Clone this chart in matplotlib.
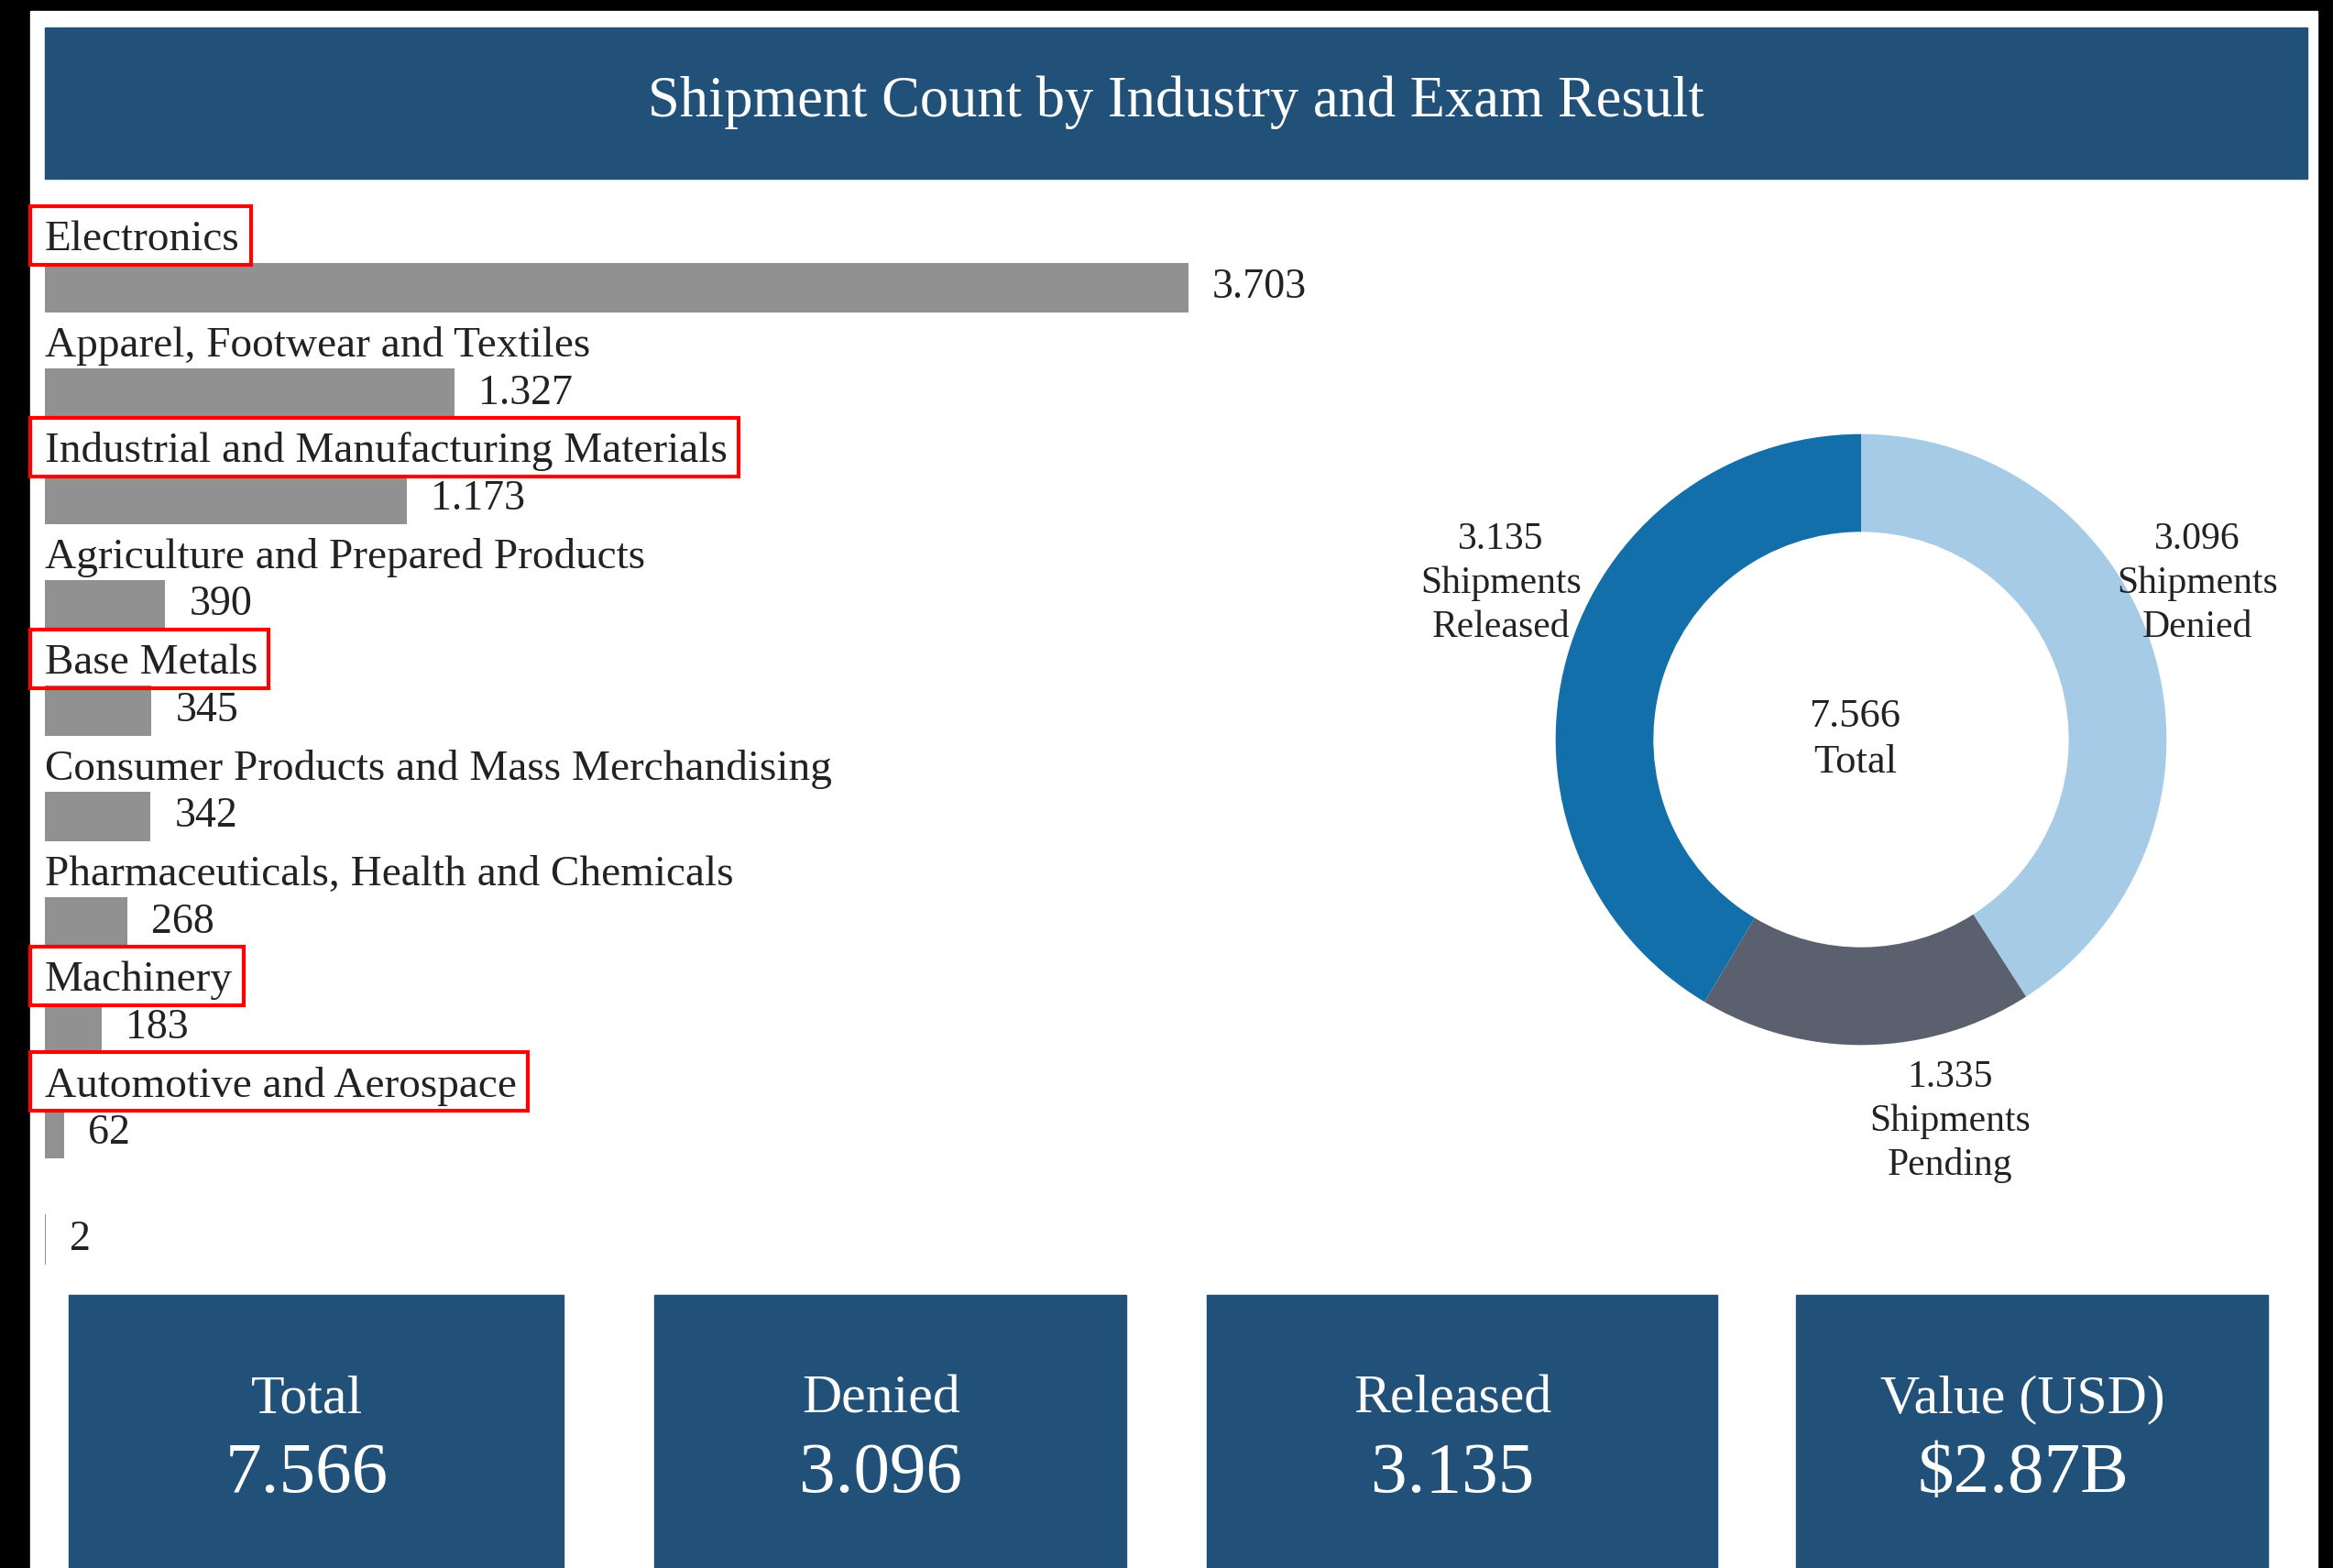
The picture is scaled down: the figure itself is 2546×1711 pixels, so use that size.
import numpy as np
import matplotlib.pyplot as plt
from matplotlib.patches import Rectangle

# data
industries = ["Electronics", "Apparel, Footwear and Textiles",
              "Industrial and Manufacturing Materials",
              "Agriculture and Prepared Products", "Base Metals",
              "Consumer Products and Mass Merchandising",
              "Pharmaceuticals, Health and Chemicals", "Machinery",
              "Automotive and Aerospace", ""]
shipments = [3703, 1327, 1173, 390, 345, 342, 268, 183, 62, 2]
highlighted = ["Electronics", "Industrial and Manufacturing Materials",
               "Base Metals", "Machinery", "Automotive and Aerospace"]

results = ["Denied", "Pending", "Released"]
result_counts = [3096, 1335, 3135]

kpi_titles = ["Total", "Denied", "Released", "Value (USD)"]
kpi_values = [sum(result_counts), result_counts[0], result_counts[2], "$2.87B"]


def fmt(v):
    # dots as thousands separator, like the report
    return f"{v:,}".replace(",", ".") if isinstance(v, (int, np.integer)) else v


W, H = 2546, 1711
NAVY = "#215079"
TXT = "#222222"
FONT = "Liberation Serif"
plt.rcParams["font.family"] = [FONT, "DejaVu Serif"]


def fx(x):
    return x / W


def fy(y):
    return 1 - y / H


fig = plt.figure(figsize=(W / 100, H / 100), dpi=100, facecolor="black")
fig.add_artist(Rectangle((fx(33), 0), fx(2529) - fx(33), fy(12),
                         transform=fig.transFigure, color="white", zorder=-5))

# title banner
fig.add_artist(Rectangle((fx(49), fy(195)), fx(2518) - fx(49), (195 - 30) / H,
                         transform=fig.transFigure, color=NAVY, zorder=-4))
fig.text(fx(1283), fy(112), "Shipment Count by Industry and Exam Result",
         color="white", fontsize=45, ha="center", va="center")

# bar chart
row0, row_px = 314, 115.4
ax_top = row0 - row_px
ax_bot = row0 + 9.5 * row_px
ax_left, ax_right = 49, 1450
ax = fig.add_axes([fx(ax_left), fy(ax_bot), (ax_right - ax_left) / W,
                   (ax_bot - ax_top) / H])
ypos = np.arange(len(industries))
ax.barh(ypos, shipments, height=0.47, color="#919191")
ax.set_xlim(0, max(shipments) * (ax_right - ax_left) / 1248)
ax.set_ylim(9.5, -1)
ax.axis("off")

label_texts = {}
for i, (name, v) in enumerate(zip(industries, shipments)):
    t = ax.text(0, i - 0.45, name, fontsize=34, color=TXT, ha="left",
                va="center")
    label_texts[name] = t
    ax.annotate(fmt(v), (v, i), xytext=(26, 0), textcoords="offset pixels",
                fontsize=33, color=TXT, ha="left", va="center")

# red highlight boxes around some labels
fig.canvas.draw()
renderer = fig.canvas.get_renderer()
for name in highlighted:
    t = label_texts[name]
    bb = t.get_window_extent(renderer)
    cy = (bb.y0 + bb.y1) / 2 + 5
    x_right = bb.x1 + 12
    fig.add_artist(Rectangle((33 / W, (cy - 32) / H), (x_right - 33) / W, 64 / H,
                             transform=fig.transFigure, fill=False,
                             edgecolor="#FF0000", linewidth=3))

# donut
cx, cy = 2031, 807
size = 1000
ax2 = fig.add_axes([fx(cx - size / 2), fy(cy + size / 2), size / W, size / H])
ax2.pie(result_counts, startangle=90, counterclock=False, radius=1,
        colors=["#A5CBE7", "#5A606E", "#136FAA"],
        wedgeprops=dict(width=0.32, linewidth=0))
ax2.set_xlim(-1.5, 1.5)
ax2.set_ylim(-1.5, 1.5)
ax2.set_aspect("equal")
ax2.axis("off")
label_pos = [(1.10, 0.51), (0.29, -1.25), (-1.18, 0.51)]
for name, v, (lx, ly) in zip(results, result_counts, label_pos):
    ax2.text(lx, ly, f"{fmt(v)}\nShipments\n{name}", fontsize=30, color=TXT,
             ha="center", va="center", linespacing=1.32)
ax2.text(-0.02, 0, f"{fmt(sum(result_counts))}\nTotal", fontsize=32, color=TXT,
         ha="center", va="center", linespacing=1.35)

# KPI cards
cards = [(75, 615), (714, 1229), (1317, 1874), (1960, 2475)]
for (x0, x1), title, val in zip(cards, kpi_titles, kpi_values):
    fig.add_artist(Rectangle((fx(x0), 0), (x1 - x0) / W, fy(1413),
                             transform=fig.transFigure, color=NAVY, zorder=-4))
    xc = (x0 + x1) / 2 - 10
    fig.text(fx(xc), fy(1527), title, color="white", fontsize=43,
             ha="center", va="center")
    fig.text(fx(xc), fy(1609), fmt(val), color="white", fontsize=57,
             ha="center", va="center")

fig.savefig("out.png", dpi=100, facecolor=fig.get_facecolor())
